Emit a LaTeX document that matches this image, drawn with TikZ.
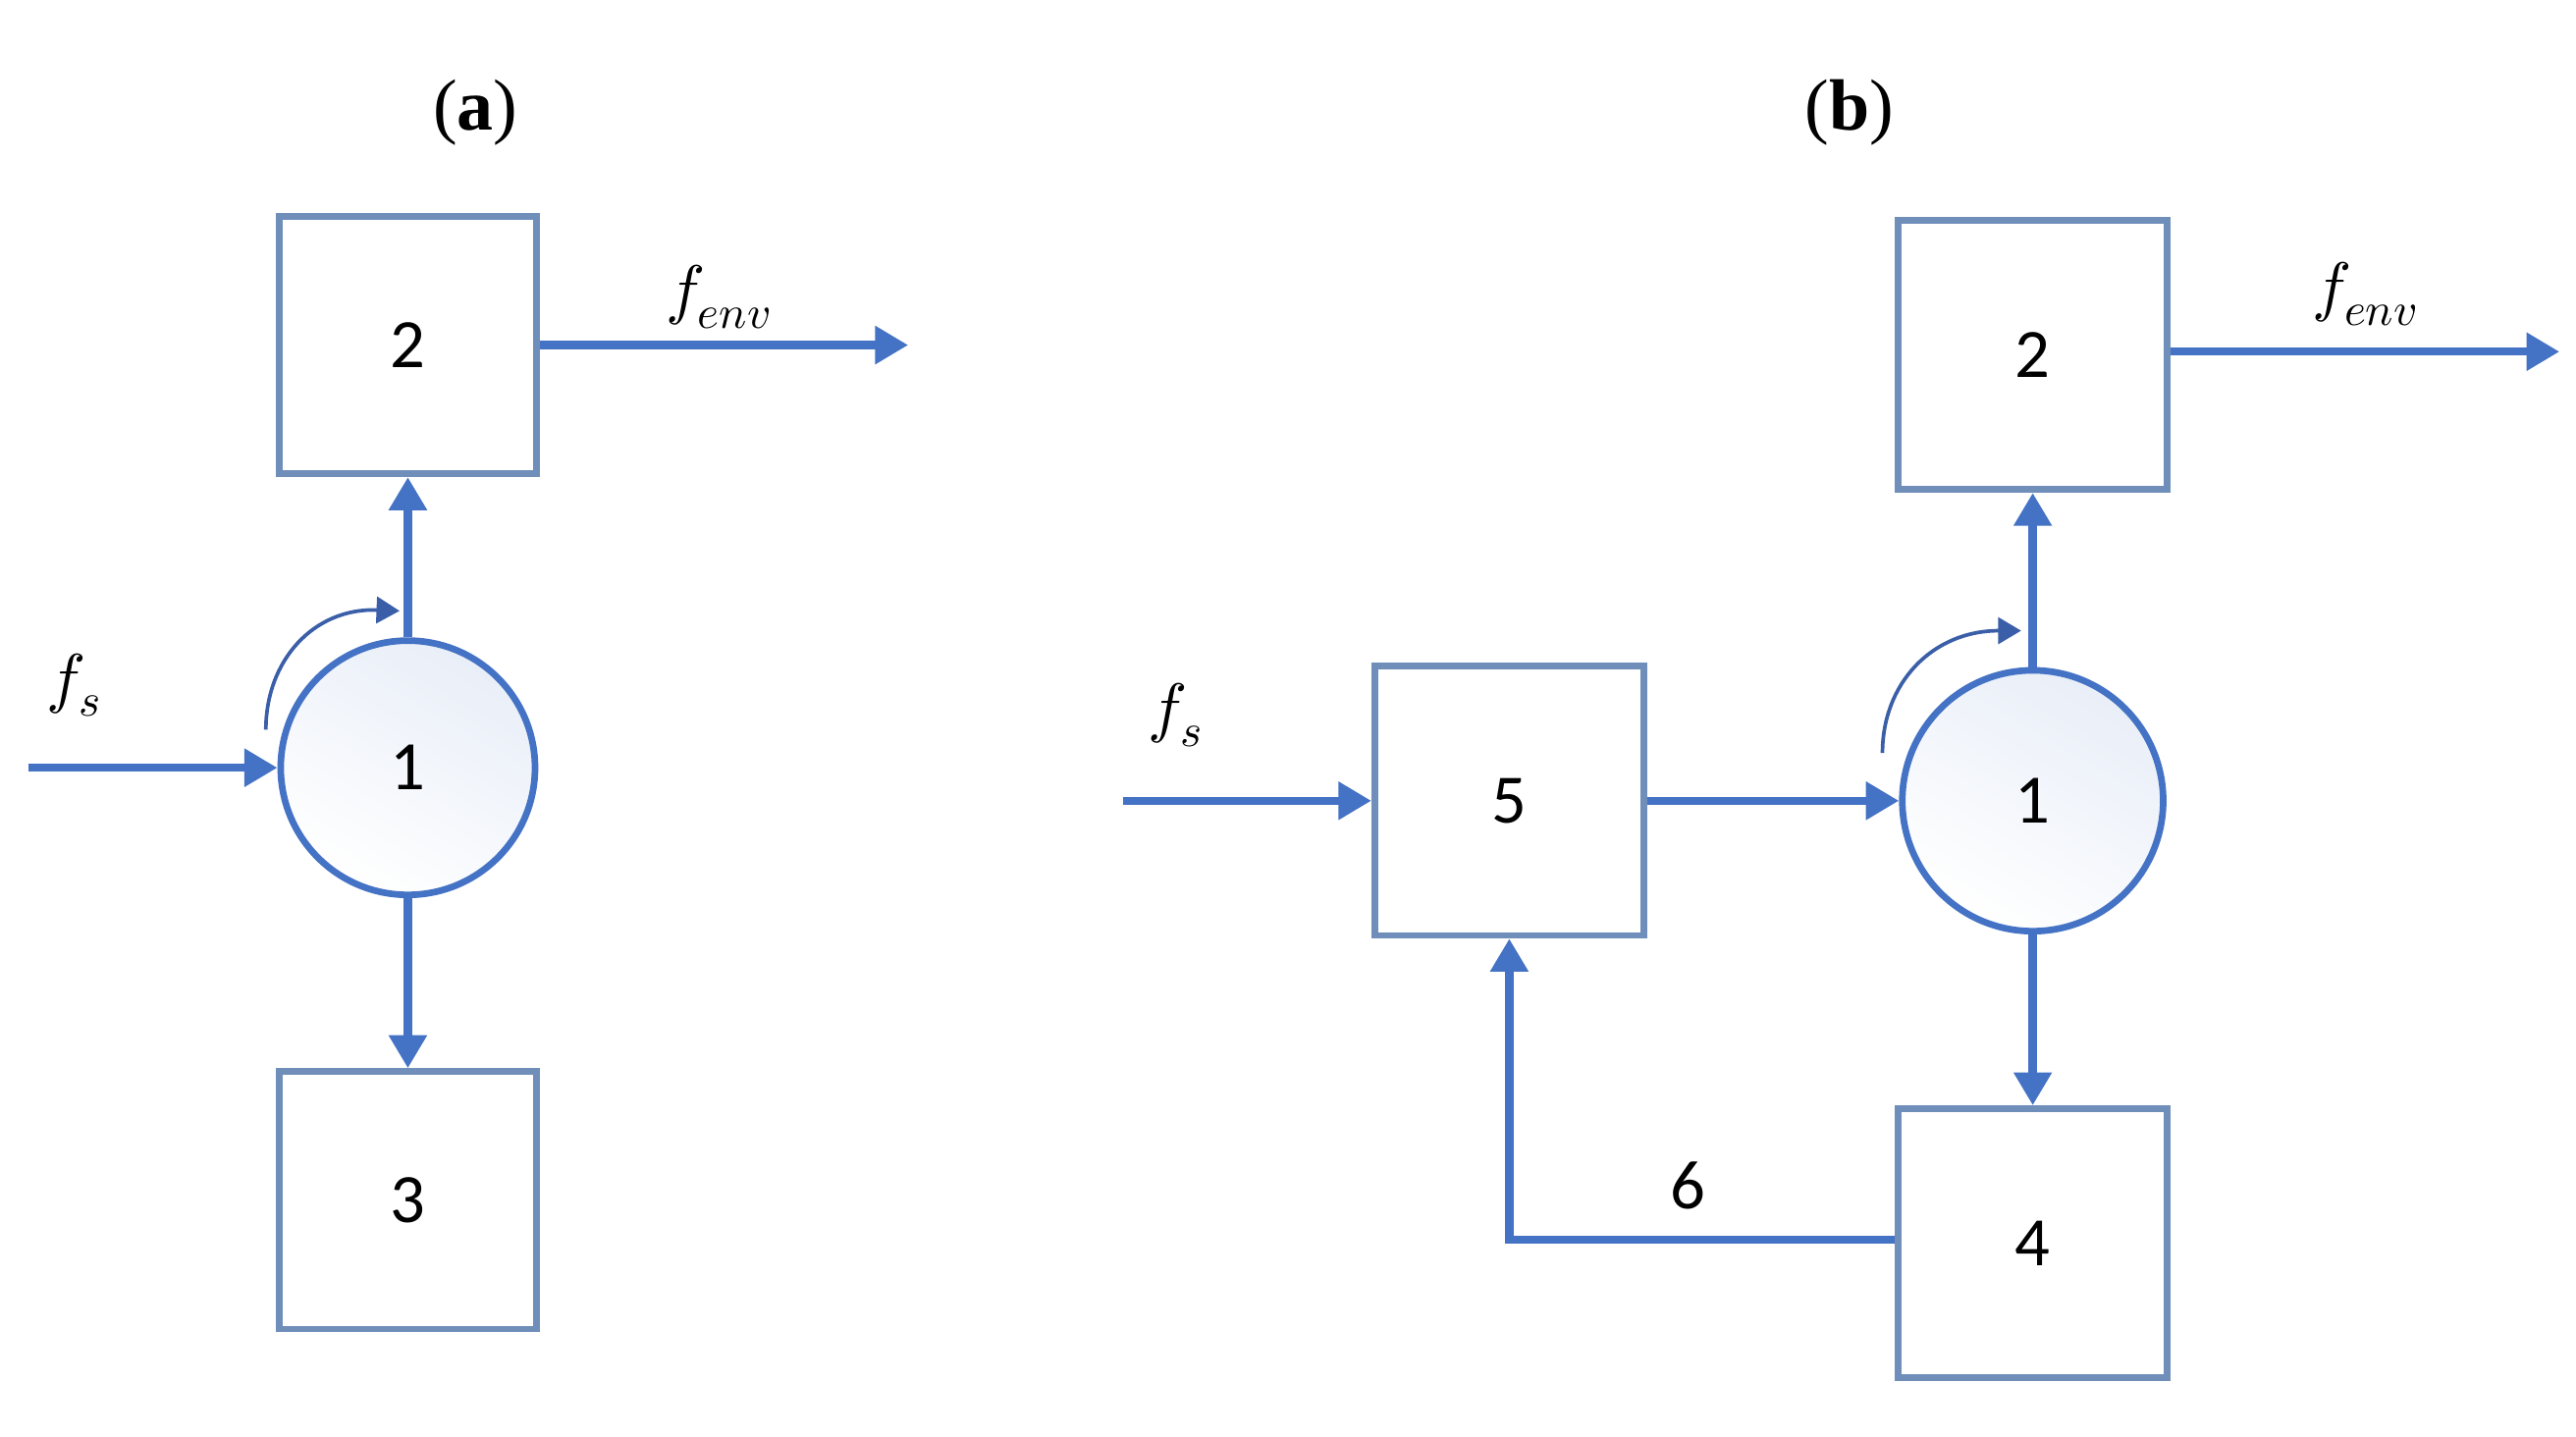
\documentclass[tikz,border=0pt]{standalone}
\usepackage{unicode-math}
\setmainfont{Carlito}
\setmathfont{Latin Modern Math}
\newfontfamily\titlefont{Liberation Serif}
\usetikzlibrary{arrows.meta}
\definecolor{ln}{HTML}{4472C4}
\definecolor{bx}{HTML}{6F8FBA}
\definecolor{cv}{HTML}{3A5FA8}
\begin{document}
\begin{tikzpicture}[x=1pt,y=-1pt,
  box/.style={draw=bx,line width=4pt,minimum size=156pt,inner sep=0pt,font=\fontsize{42}{48}\selectfont},
  circ/.style={circle,draw=ln,line width=4pt,minimum size=154pt,inner sep=0pt,top color=ln!12,bottom color=white,shading angle=-30,font=\fontsize{42}{48}\selectfont},
  fl/.style={draw=ln,line width=5pt,-{Triangle[length=20pt,width=22pt]}},
  rot/.style={draw=cv,line width=2.2pt,-{Triangle[length=14pt,width=16pt]}},
  lab/.style={font=\fontsize{40}{46}\selectfont},
  ttl/.style={font=\titlefont\fontsize{44}{50}\selectfont}]
\useasboundingbox (0,0) rectangle (1560,870);
% (a)
\node[ttl] (ta) at (288,68) {(\textbf{a})};
\node[box] (a2) at (247,209) {2};
\node[circ] (a1) at (247,465) {1};
\node[box] (a3) at (247,727) {3};
\coordinate (ain) at (17,465);
\coordinate (aout) at (550,209);
\draw[fl] (ain) -- (a1.west);
\draw[fl] (a1.north) -- (a2.south);
\draw[fl] (a1.south) -- (a3.north);
\draw[fl] (a2.east |- aout) -- (aout);
\node[lab] (afs) at (45,415) {$f_s$};
\node[lab] (aenv) at (435,180) {$f_{env}$};
\coordinate (ar0) at (161,442);
\coordinate (ar1) at (242,370);
\draw[rot] (ar0) .. controls (161,400) and (190,368) .. (ar1);
% (b)
\node[ttl] (tb) at (1120,68) {(\textbf{b})};
\node[box,minimum size=163pt] (b2) at (1231,215) {2};
\node[circ,minimum size=158pt] (b1) at (1231,485) {1};
\node[box,minimum size=163pt] (b5) at (914,485) {5};
\node[box,minimum size=163pt] (b4) at (1231,753) {4};
\coordinate (bin) at (680,485);
\coordinate (bout) at (1550,213);
\coordinate (bc) at (914,751);
\draw[fl] (bin) -- (b5.west);
\draw[fl] (b5.east) -- (b1.west);
\draw[fl] (b1.north) -- (b2.south);
\draw[fl] (b1.south) -- (b4.north);
\draw[fl] (b4.west |- bc) -- (bc) -- (b5.south);
\draw[fl] (b2.east |- bout) -- (bout);
\node[lab] (bfs) at (712,433) {$f_s$};
\node[lab] (benv) at (1432,178) {$f_{env}$};
\node[lab,font=\fontsize{42}{48}\selectfont] (b6) at (1022,718) {6};
\coordinate (br0) at (1140,456);
\coordinate (br1) at (1224,382);
\draw[rot] (br0) .. controls (1140,414) and (1170,382) .. (br1);
\end{tikzpicture}
\end{document}
